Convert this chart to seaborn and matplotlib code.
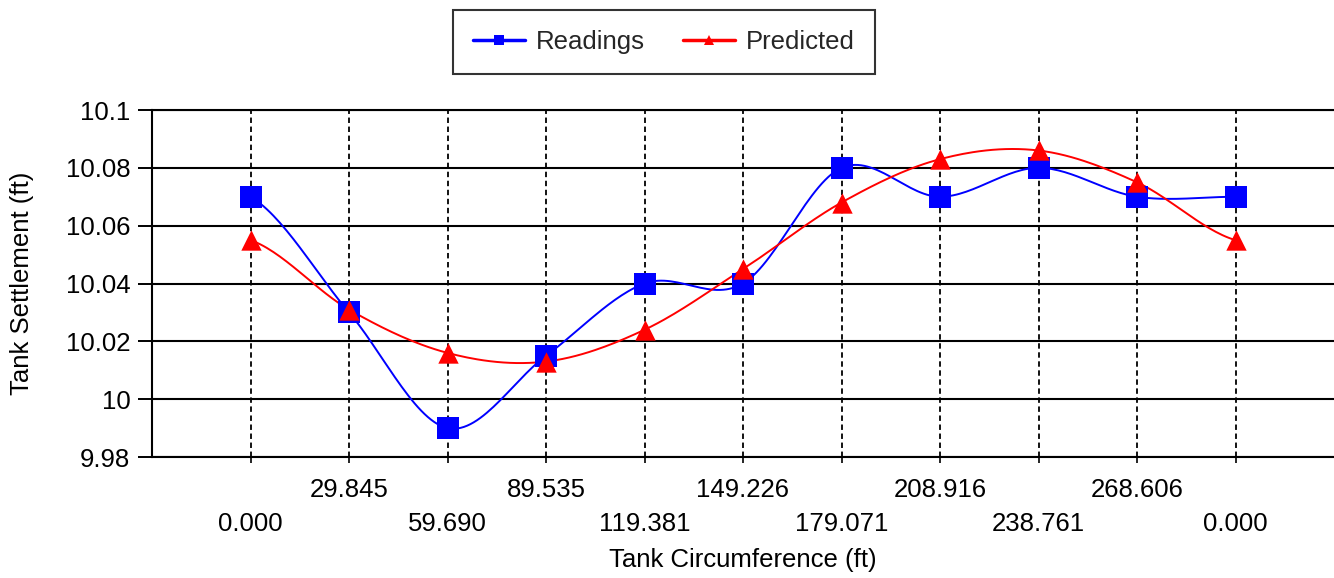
import numpy as np
import pandas as pd
import matplotlib
matplotlib.use("Agg")
import matplotlib.pyplot as plt
from matplotlib.lines import Line2D
import seaborn as sns

# Stations around the tank circumference (ft); the last one closes the ring
stations = ["0.000", "29.845", "59.690", "89.535", "119.381", "149.226",
            "179.071", "208.916", "238.761", "268.606", "0.000"]
readings = [10.07, 10.03, 9.99, 10.015, 10.04, 10.04, 10.08, 10.07, 10.08, 10.07, 10.07]
predicted = [10.055, 10.031, 10.016, 10.013, 10.024, 10.045, 10.068, 10.083, 10.086, 10.075, 10.055]
y_ticks = [9.98, 10.0, 10.02, 10.04, 10.06, 10.08, 10.1]

BLUE = "#0000FF"
RED = "#FF0000"
FONT = "Liberation Sans"
FS = 18.5


def cardinal_curve(values, tension=0.5, steps=30):
    """Smooth curve through the points using a cardinal (Catmull-Rom) spline."""
    y = np.asarray(values, float)
    n = len(y)
    m = np.empty(n)
    m[1:-1] = tension * (y[2:] - y[:-2])
    m[0] = tension * (y[1] - y[0])
    m[-1] = tension * (y[-1] - y[-2])
    xs, ys = [], []
    t = np.linspace(0, 1, steps, endpoint=False)
    h00 = 2 * t**3 - 3 * t**2 + 1
    h10 = t**3 - 2 * t**2 + t
    h01 = -2 * t**3 + 3 * t**2
    h11 = t**3 - t**2
    for i in range(n - 1):
        xs.append(i + t)
        ys.append(h00 * y[i] + h10 * m[i] + h01 * y[i + 1] + h11 * m[i + 1])
    xs.append([n - 1])
    ys.append([y[-1]])
    return np.concatenate(xs), np.concatenate(ys)


idx = np.arange(len(stations))
pts = pd.DataFrame({"pos": np.concatenate([idx, idx]),
                    "value": readings + predicted,
                    "series": ["Readings"] * len(idx) + ["Predicted"] * len(idx)})

curves = []
for name, vals in (("Readings", readings), ("Predicted", predicted)):
    cx, cy = cardinal_curve(vals)
    curves.append(pd.DataFrame({"pos": cx, "value": cy, "series": name}))
curves = pd.concat(curves, ignore_index=True)

sns.set_style("white")
plt.rcParams["font.family"] = [FONT, "DejaVu Sans"]

fig = plt.figure(figsize=(13.34, 5.78), dpi=100)
ax = fig.add_axes([152 / 1334, 1 - 457 / 578, 1 - 152 / 1334, 347 / 578])

palette = {"Readings": BLUE, "Predicted": RED}
sns.lineplot(data=curves, x="pos", y="value", hue="series", palette=palette,
             sort=False, estimator=None, linewidth=1.4, legend=False, ax=ax, zorder=3)
sns.scatterplot(data=pts[pts.series == "Readings"], x="pos", y="value", color=BLUE,
                marker="s", s=260, linewidth=0, legend=False, ax=ax, zorder=4)
sns.scatterplot(data=pts[pts.series == "Predicted"], x="pos", y="value", color=RED,
                marker="^", s=215, linewidth=0, legend=False, ax=ax, zorder=5)

ax.set_xlim(-1, 11)
ax.set_ylim(y_ticks[0], y_ticks[-1])

# Y axis
ax.set_yticks(y_ticks)
ax.set_yticklabels([format(round(v, 2), "g") for v in y_ticks])
ax.tick_params(axis="y", direction="out", length=10, width=1.4, pad=5.5,
               labelsize=FS, colors="black", left=True)

# X axis: staggered labels (odd stations on the upper row, even ones below)
ax.set_xticks(idx[1::2])
ax.set_xticklabels(stations[1::2])
ax.set_xticks(idx[0::2], minor=True)
ax.set_xticklabels(stations[0::2], minor=True)
ax.tick_params(axis="x", which="major", direction="out", length=4.5, width=1.2,
               pad=10.5, labelsize=FS, colors="black", bottom=True)
ax.tick_params(axis="x", which="minor", direction="out", length=4.5, width=1.2,
               pad=35, labelsize=FS, colors="black", bottom=True)

ax.set_axisbelow(True)
ax.yaxis.grid(True, color="black", linewidth=1.5)
ax.xaxis.grid(True, which="both", color="black", linewidth=1.3, linestyle=(0, (3, 2)))

for side in ("left", "bottom", "top"):
    ax.spines[side].set_visible(True)
    ax.spines[side].set_color("black")
    ax.spines[side].set_linewidth(1.5)
ax.spines["right"].set_visible(False)

ax.set_xlabel("Tank Circumference (ft)", fontsize=FS, color="black")
ax.xaxis.set_label_coords(0.5, (457 - 560) / 347)
ax.xaxis.label.set_va("center")
ax.set_ylabel("Tank Settlement (ft)", fontsize=FS, color="black")
ax.yaxis.set_label_coords((22 - 152) / 1182, 0.5)
ax.yaxis.label.set_va("center")

handles = [Line2D([], [], color=BLUE, lw=2.5, marker="s", markersize=7, markeredgewidth=0),
           Line2D([], [], color=RED, lw=2.5, marker="^", markersize=7, markeredgewidth=0)]
leg = fig.legend(handles, ["Readings", "Predicted"], loc="upper center",
                 bbox_to_anchor=(664 / 1334, 1 - 10 / 578), ncol=2, fontsize=FS,
                 frameon=True, fancybox=False, handlelength=2.0, handletextpad=0.43,
                 columnspacing=1.5, borderpad=0.78, borderaxespad=0)
leg.get_frame().set_edgecolor("black")
leg.get_frame().set_linewidth(1.5)

fig.savefig("out.png", dpi=100)
